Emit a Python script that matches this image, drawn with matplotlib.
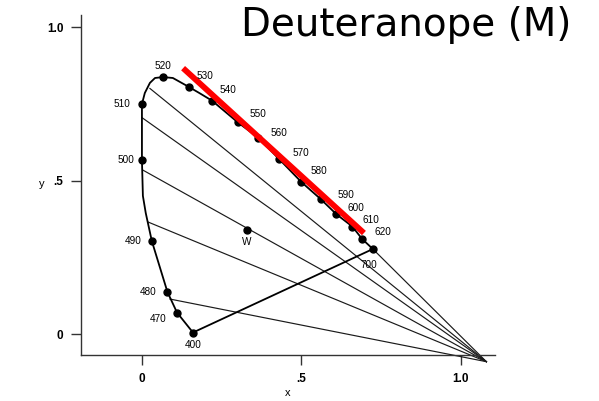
import matplotlib
matplotlib.use('Agg')
import matplotlib.pyplot as plt

plt.rcParams['font.family'] = ['Liberation Sans', 'DejaVu Sans']

# marked wavelengths on the spectral locus
wl_labels = ['400', '470', '480', '490', '500', '510', '520', '530', '540', '550',
             '560', '570', '580', '590', '600', '610', '620', '700']
wl_x = [0.16, 0.11, 0.08, 0.031, 0.0, 0.0, 0.066, 0.147, 0.22, 0.30,
        0.364, 0.43, 0.50, 0.56, 0.61, 0.66, 0.69, 0.724]
wl_y = [0.005, 0.07, 0.137, 0.303, 0.567, 0.749, 0.837, 0.805, 0.76, 0.69,
        0.64, 0.57, 0.495, 0.44, 0.39, 0.35, 0.31, 0.277]

# traced outline of the locus (blue end -> red end)
locus_x = [0.16, 0.11, 0.08, 0.031, 0.012, 0.003, 0.0, 0.0, 0.0, 0.009, 0.025, 0.041,
           0.066, 0.097, 0.147, 0.18, 0.22, 0.30, 0.364, 0.43, 0.50, 0.56, 0.61,
           0.66, 0.69, 0.724]
locus_y = [0.005, 0.07, 0.137, 0.303, 0.394, 0.45, 0.567, 0.655, 0.749, 0.785, 0.818,
           0.834, 0.837, 0.834, 0.805, 0.785, 0.76, 0.69, 0.64, 0.57, 0.495, 0.44,
           0.39, 0.35, 0.31, 0.277]

# white point
w_x, w_y = 0.33, 0.34

# confusion lines: start on the locus, all end at the copunctal point
conf_x = [0.025, 0.0, 0.003, 0.019, 0.088, 0.724]
conf_y = [0.80, 0.705, 0.534, 0.365, 0.114, 0.277]
copunctal = (1.08, -0.09)

# red highlight
red_x = [0.129, 0.696]
red_y = [0.866, 0.329]

# label offsets in pixels (dx, dy)
offsets = {'400': (0, -12), '470': (-19, -6), '480': (-19, 0), '490': (-19, 0),
           '500': (-16, 0), '510': (-20, 0), '520': (0, 11), '530': (16, 11),
           '540': (16, 11), '550': (20, 8), '560': (21, 5), '570': (22, 6),
           '580': (18, 11), '590': (25, 4), '600': (19, 6), '610': (18, 7),
           '620': (21, 7), '700': (-4, -16)}

fig = plt.figure(figsize=(5.99, 4.01), dpi=100)
ax = fig.add_axes([0, 0, 1, 1])
ax.set_xlim(-0.445, 1.433)
ax.set_ylim(-0.218, 1.088)

for sx, sy in zip(conf_x, conf_y):
    ax.plot([sx, copunctal[0]], [sy, copunctal[1]], color='#1a1a1a', lw=0.85)

ax.plot(locus_x, locus_y, color='black', lw=1.3)
ax.plot([wl_x[0], wl_x[-1]], [wl_y[0], wl_y[-1]], color='black', lw=1.3)
ax.plot(wl_x, wl_y, 'o', color='black', ms=5)
ax.plot([w_x], [w_y], 'o', color='black', ms=5)

for lab, x, y in zip(wl_labels, wl_x, wl_y):
    dx, dy = offsets[lab]
    ax.annotate(lab, (x, y), xytext=(dx, dy), textcoords='offset pixels',
                ha='center', va='center', fontsize=7.2)
ax.annotate('W', (w_x, w_y), xytext=(0, -12), textcoords='offset pixels',
            ha='center', va='center', fontsize=7.2)

ax.plot(red_x, red_y, color='#ff0000', lw=4.2, solid_capstyle='butt')

# axes drawn like the original scan
for s in ['top', 'right']:
    ax.spines[s].set_visible(False)
ax.spines['left'].set_position(('data', -0.19))
ax.spines['bottom'].set_position(('data', -0.068))
ax.spines['left'].set_bounds(-0.068, 1.04)
ax.spines['bottom'].set_bounds(-0.19, 1.107)
for s in ['left', 'bottom']:
    ax.spines[s].set_linewidth(1.0)
    ax.spines[s].set_color('#333333')
ax.set_xticks([0, 0.5, 1.0])
ax.set_yticks([0, 0.5, 1.0])
ax.tick_params(direction='out', length=7, width=1.0, pad=6, color='#333333')
ax.set_xticklabels(['0', '.5', '1.0'], fontweight='bold', fontsize=8.5)
ax.set_yticklabels(['0', '.5', '1.0'], fontweight='bold', fontsize=8.5)
ax.text(-0.315, 0.49, 'y', fontsize=8, ha='center', va='center')
ax.text(0.457, -0.192, 'x', fontsize=8, ha='center', va='center')

fig.text(406 / 599, 1 - 36 / 401, 'Deuteranope (M)', fontsize=28,
         family='DejaVu Sans', ha='center', va='baseline')

fig.savefig('out.png', dpi=100)
